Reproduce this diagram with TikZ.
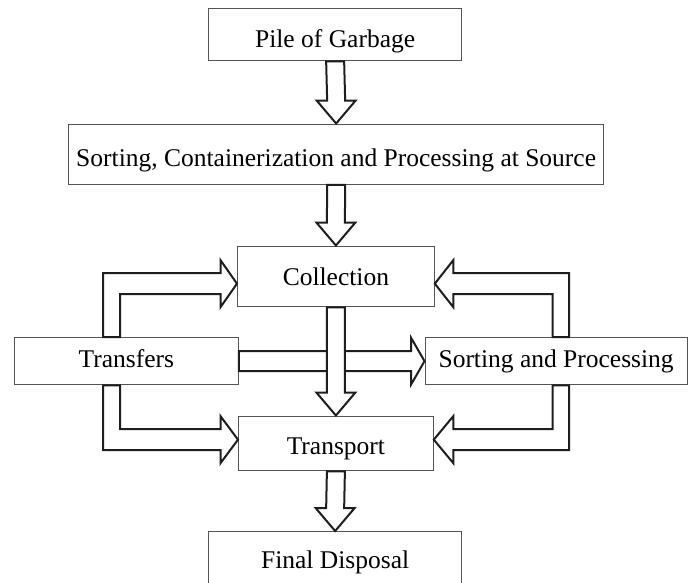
\documentclass[tikz,border=0pt]{standalone}
\usepackage{fontspec}
\setmainfont{Liberation Serif}
\usetikzlibrary{calc}
\definecolor{boxgray}{HTML}{555555}
\definecolor{arrowblack}{HTML}{1E1E1E}
\begin{document}
\begin{tikzpicture}[x=1pt,y=-1pt,
  box/.style={draw=boxgray, line width=1.3pt, fill=white, inner sep=0pt,
    font=\fontsize{25.5}{30}\selectfont, text depth=0pt, anchor=north west},
  tb/.style={text height=#1pt},
  barrow/.style={draw=arrowblack, line width=2pt, fill=white, line join=miter, miter limit=10}]
\path[use as bounding box] (0,0) rectangle (688,582);
\clip (0,0) rectangle (688,582);

% boxes
\node[box, minimum width=253pt, minimum height=52.5pt, tb=26.9] (pile) at (208,7.5) {Pile of Garbage};
\node[box, minimum width=535pt, minimum height=60pt, tb=25.4] (src) at (68,123.5) {Sorting, Containerization and Processing at Source};
\node[box, minimum width=196.5pt, minimum height=60.5pt, tb=18.5] (coll) at (237,245.5) {Collection};
\node[box, minimum width=223.5pt, minimum height=47pt, tb=12.4] (tr) at (14,337) {Transfers};
\node[box, minimum width=262pt, minimum height=47pt, tb=13] (sp) at (424.5,337) {Sorting and Processing};
\node[box, minimum width=194.5pt, minimum height=54.5pt, tb=22.1] (tp) at (238,415.5) {Transport};
\node[box, minimum width=253pt, minimum height=60pt, tb=14] (fin) at (208,531) {Final Disposal};

% vertical block arrow from #1 to #2
\newcommand\myvarrow[2]{%
  \draw[barrow] ($(#1.south)+(-9,0)$) -- ($(#2.north)+(-9,-23)$) -- ++(-10.5,0)
    -- (#2.north) -- ($(#2.north)+(19.5,-23)$) -- ++(-10.5,0)
    -- ($(#1.south)+(9,0)$) -- cycle;}

\myvarrow{pile}{src}
\myvarrow{src}{coll}

% horizontal arrow Transfers -> Sorting and Processing
\draw[barrow] ($(tr.east)+(0,-10)$) -- ($(sp.west)+(-13.5,-10)$) -- ++(0,-13.5)
  -- (sp.west) -- ++(-13.5,23.5) -- ++(0,-13.5) -- ($(tr.east)+(0,10)$) -- cycle;

\myvarrow{coll}{tp}
\myvarrow{tp}{fin}

% bent arrows
\coordinate (tipLT) at ($(coll.west)+(0,7.25)$);
\coordinate (tipLB) at ($(tp.west)+(0,-3.75)$);
\coordinate (tipRT) at ($(coll.east)+(0,7.25)$);
\coordinate (tipRB) at ($(tp.east)+(0,-3.75)$);

\draw[barrow] ($(tr.north west)+(89,0)$) |- ($(tipLT)+(-16.5,-10.5)$) -- ++(0,-13)
  -- (tipLT) -- ++(-16.5,23.5) -- ++(0,-13) -| ($(tr.north west)+(106,0)$) -- cycle;
\draw[barrow] ($(tr.south west)+(89,0)$) |- ($(tipLB)+(-17.5,10.5)$) -- ++(0,13)
  -- (tipLB) -- ++(-17.5,-23.5) -- ++(0,13) -| ($(tr.south west)+(106,0)$) -- cycle;
\draw[barrow] ($(sp.north west)+(144.5,0)$) |- ($(tipRT)+(18.5,-10.5)$) -- ++(0,-13)
  -- (tipRT) -- ++(18.5,23.5) -- ++(0,-13) -| ($(sp.north west)+(128,0)$) -- cycle;
\draw[barrow] ($(sp.south west)+(144.5,0)$) |- ($(tipRB)+(19.5,10.5)$) -- ++(0,13)
  -- (tipRB) -- ++(19.5,-23.5) -- ++(0,13) -| ($(sp.south west)+(128,0)$) -- cycle;
\end{tikzpicture}
\end{document}
